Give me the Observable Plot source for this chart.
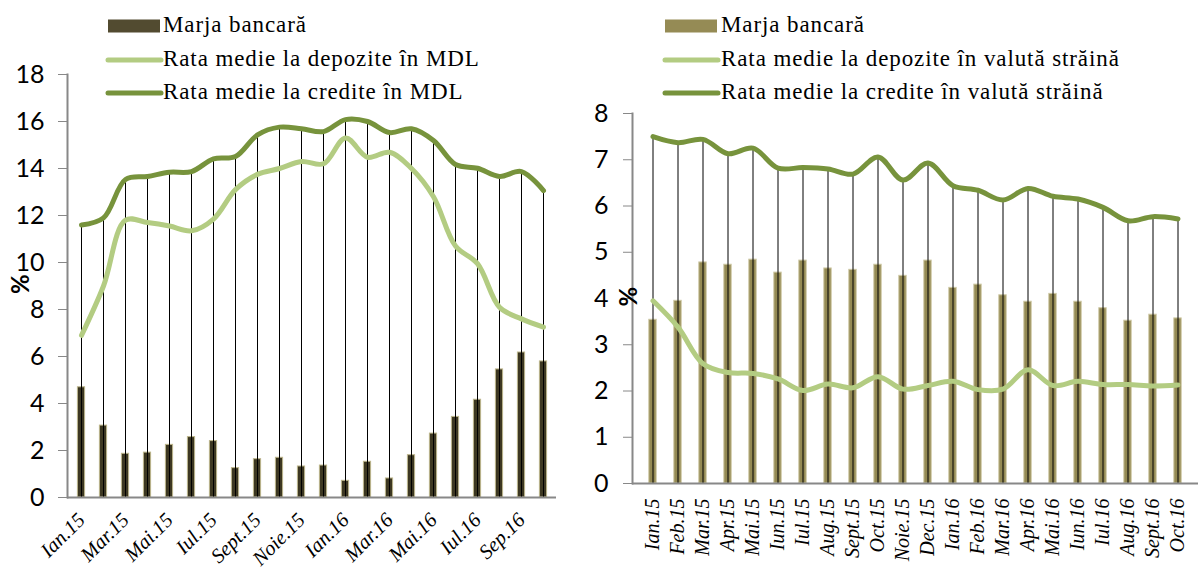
<!DOCTYPE html>
<html>
<head>
<meta charset="utf-8">
<script src="https://cdn.jsdelivr.net/npm/d3@7"></script>
<script src="https://cdn.jsdelivr.net/npm/@observablehq/plot@0.6"></script>
<style>
  html, body { margin: 0; padding: 0; background: #fff; }
  #root { position: relative; width: 1198px; height: 568px; overflow: hidden; }
  .panel { position: absolute; top: 0; }
  .leg-text { position: absolute; font-family: "Liberation Serif", serif; font-size: 23px; letter-spacing: 0.9px; line-height: 26px; height: 26px; white-space: nowrap; color: #000; }
  .leg-sw { position: absolute; }
</style>
</head>
<body>
<div id="root"></div>
<script>
// ---------- DATA ----------
const months = ["Ian.15","Feb.15","Mar.15","Apr.15","Mai.15","Iun.15","Iul.15","Aug.15","Sept.15","Oct.15","Noie.15","Dec.15",
                "Ian.16","Feb.16","Mar.16","Apr.16","Mai.16","Iun.16","Iul.16","Aug.16","Sept.16","Oct.16"];

// Left panel (MDL)
const leftTicks = ["Ian.15","Mar.15","Mai.15","Iul.15","Sept.15","Noie.15","Ian.16","Mar.16","Mai.16","Iul.16","Sept.16"];
const leftTickLabels = ["Ian.15","Mar.15","Mai.15","Iul.15","Sept.15","Noie.15","Ian.16","Mar.16","Mai.16","Iul.16","Sep.16"];
const marjaMDL    = [4.69,3.06,1.86,1.91,2.24,2.57,2.40,1.25,1.63,1.69,1.32,1.36,0.71,1.52,0.81,1.80,2.72,3.43,4.16,5.45,6.17,5.79];
const depoziteMDL = [6.9,9.0,11.8,11.7,11.55,11.35,11.85,13.1,13.75,14.0,14.3,14.2,15.3,14.48,14.69,14.0,12.8,10.7,9.95,8.1,7.6,7.25];
const crediteMDL  = [11.6,11.9,13.53,13.66,13.84,13.87,14.41,14.51,15.43,15.76,15.69,15.57,16.08,16.0,15.53,15.69,15.19,14.17,14.01,13.66,13.87,13.06];
const yTicksLeft  = [0,2,4,6,8,10,12,14,16,18];

// Right panel (valută străină)
const marjaVS    = [3.54,3.95,4.78,4.73,4.84,4.56,4.82,4.65,4.62,4.73,4.49,4.82,4.23,4.30,4.07,3.93,4.10,3.93,3.79,3.52,3.65,3.57];
const depoziteVS = [3.95,3.38,2.59,2.40,2.38,2.26,2.01,2.15,2.07,2.31,2.04,2.12,2.21,2.03,2.04,2.46,2.12,2.21,2.14,2.14,2.11,2.13];
const crediteVS  = [7.50,7.37,7.44,7.13,7.25,6.82,6.83,6.80,6.69,7.06,6.56,6.93,6.44,6.34,6.13,6.38,6.21,6.15,5.97,5.68,5.77,5.72];
const yTicksRight = [0,1,2,3,4,5,6,7,8];

// Legend texts
const legendLeft  = ["Marja bancară","Rata medie la depozite în MDL","Rata medie la credite în MDL"];
const legendRight = ["Marja bancară","Rata medie la depozite în valută străină","Rata medie la credite în valută străină"];

// ---------- STYLE ----------
const cDep = "#b3cc82";
const cCred = "#77933c";
const cBarLeft = "#3d3822", cBarLeftEdge = "#bdb68c";
const cBarRight = "#948a54", cBarRightEdge = "#cfc9a6";
const cAxis = "#888888";

function panel(o) {
  const data = months.map((m, i) => ({month: m, marja: o.marja[i], depozite: o.depozite[i], credite: o.credite[i]}));
  return Plot.plot({
    width: o.width, height: 568,
    marginLeft: o.marginLeft, marginRight: o.marginRight, marginTop: o.marginTop, marginBottom: o.marginBottom,
    x: {domain: months, padding: 0},
    y: {domain: o.yDomain},
    style: {fontFamily: "Lato, sans-serif", background: "transparent", overflow: "visible"},
    marks: [
      Plot.barY(data, {x: "month", y: "marja", fill: o.barFill, stroke: o.barStroke, strokeWidth: 1, insetLeft: o.inset, insetRight: o.inset}),
      Plot.ruleX(data, {x: "month", y1: 0, y2: "credite", stroke: "black", strokeWidth: 1}),
      Plot.lineY(data, {x: "month", y: "depozite", stroke: cDep, strokeWidth: 5, curve: "catmull-rom"}),
      Plot.lineY(data, {x: "month", y: "credite", stroke: cCred, strokeWidth: 5, curve: "catmull-rom"}),
      Plot.frame({anchor: "left", stroke: cAxis, strokeWidth: 2}),
      Plot.ruleY([0], {stroke: cAxis, strokeWidth: 2}),
      Plot.axisY({ticks: o.yTicks, tickSize: 9, tickPadding: o.yPad, stroke: cAxis, fill: "black", fontSize: 25, label: null}),
      Plot.axisX({ticks: o.xTicks, tickFormat: o.xFormat, tickRotate: o.xRotate, tickSize: 0, tickPadding: o.xPad,
                  fontFamily: "Liberation Serif, serif", fontStyle: "italic", fontSize: o.xFont, fill: "black", label: null}),
      Plot.text(["%"], {text: d => d, frameAnchor: "left", dx: o.pctDx, dy: 8, rotate: -90, fontSize: 24, fontWeight: "bold", fill: "black"})
    ]
  });
}

const root = document.getElementById("root");

const left = panel({
  marja: marjaMDL, depozite: depoziteMDL, credite: crediteMDL,
  width: 600, marginLeft: 67, marginRight: 44, marginTop: 74, marginBottom: 71,
  yDomain: [0, 18], yTicks: yTicksLeft, yPad: 14,
  barFill: cBarLeft, barStroke: cBarLeftEdge, inset: 7.4,
  xTicks: leftTicks, xFormat: d => leftTickLabels[leftTicks.indexOf(d)], xRotate: -45, xPad: 19, xFont: 20.5,
  pctDx: -46
});
left.classList.add("panel"); left.style.left = "0px";
root.appendChild(left);

const right = panel({
  marja: marjaVS, depozite: depoziteVS, credite: crediteVS,
  width: 598, marginLeft: 32, marginRight: 0, marginTop: 113, marginBottom: 85,
  yDomain: [0, 8], yTicks: yTicksRight, yPad: 15,
  barFill: cBarRight, barStroke: cBarRightEdge, inset: 8.8,
  xTicks: months, xFormat: d => d, xRotate: -90, xPad: 15, xFont: 20,
  pctDx: -3
});
right.classList.add("panel"); right.style.left = "600px";
root.appendChild(right);

// ---------- LEGENDS ----------
function legend(texts, x0, barColor, textX) {
  const centers = [26, 60, 93];
  texts.forEach((t, i) => {
    const sw = d3.create("svg").attr("class", "leg-sw").attr("width", 60).attr("height", 16)
      .style("left", (x0 - 3) + "px").style("top", (centers[i] - 8) + "px");
    if (i === 0) {
      sw.append("rect").attr("x", 3).attr("y", 1.5).attr("width", 52).attr("height", 13).attr("fill", barColor);
    } else {
      sw.append("line").attr("x1", 3).attr("x2", 56).attr("y1", 8).attr("y2", 8)
        .attr("stroke", i === 1 ? cDep : cCred).attr("stroke-width", 5).attr("stroke-linecap", "round");
    }
    root.appendChild(sw.node());
    const d = document.createElement("div");
    d.className = "leg-text";
    d.style.left = textX + "px";
    d.style.top = (centers[i] - 14) + "px";
    d.textContent = t;
    root.appendChild(d);
  });
}
legend(legendLeft, 108, "#524b30", 163);
legend(legendRight, 665, "#958b55", 721);
</script>
</body>
</html>
